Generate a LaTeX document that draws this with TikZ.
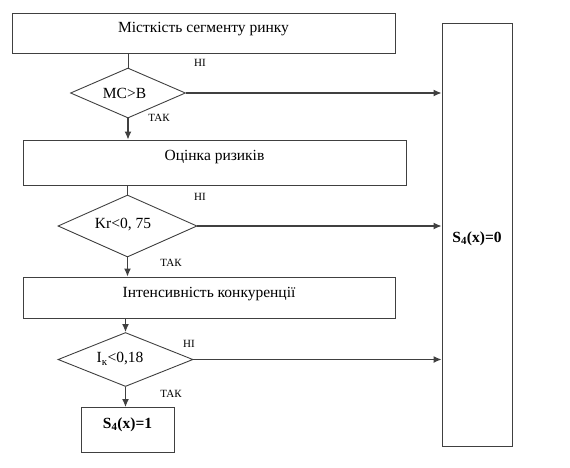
\documentclass[tikz,border=0pt]{standalone}
\usepackage{fontspec}
\setmainfont{Liberation Serif}
\usetikzlibrary{shapes.geometric,arrows.meta}
\begin{document}
\begin{tikzpicture}[x=1pt,y=-1pt,
  box/.style={draw=black!75,line width=0.9pt,inner sep=0pt},
  dia/.style={draw=black!75,line width=0.9pt,shape=diamond,inner sep=0pt,aspect=2.3},
  txt/.style={inner sep=0pt,font=\fontsize{15.5}{17}\selectfont},
  lbl/.style={inner sep=0pt,font=\fontsize{11}{12}\selectfont},
  arr/.style={draw=black!75,line width=1.2pt,-{Latex[length=8pt,width=7pt]}},
  ln/.style={draw=black!75,line width=0.9pt}]
\useasboundingbox (0,0) rectangle (570,467);
\node[box,minimum width=383pt,minimum height=40pt] (b1) at (203.5,33) {};
\node[txt] (t1) at (203.5,29) {Місткість сегменту ринку};
\node[dia,minimum width=115pt,minimum height=50pt] (d1) at (128,93) {};
\node[txt] (dt1) at (124.5,93) {МС>В};
\node[box,minimum width=383pt,minimum height=45pt] (b2) at (214.5,162.5) {};
\node[txt] (t2) at (214.5,157) {Оцінка ризиків};
\node[dia,minimum width=139pt,minimum height=62pt] (d2) at (127.5,226) {};
\node[txt] (dt2) at (123,225) {Kr<0, 75};
\node[box,minimum width=372pt,minimum height=41pt] (b3) at (209,297.5) {};
\node[txt] (t3) at (209,294) {Інтенсивність конкуренції};
\node[dia,minimum width=135pt,minimum height=54pt] (d3) at (125.5,359.5) {};
\node[txt] (dt3) at (120,359) {I\textsubscript{к}<0,18};
\node[box,minimum width=93pt,minimum height=45pt] (b4) at (127.5,430) {};
\node[txt,font=\fontsize{15.5}{17}\selectfont\bfseries] (t4) at (127.5,425) {S\textsubscript{4}(x)=1};
\node[box,minimum width=70pt,minimum height=423pt] (rb) at (477,235) {};
\node[txt,font=\fontsize{15.5}{17}\selectfont\bfseries] (t5) at (477,239) {S\textsubscript{4}(x)=0};
\draw[ln] (d1.north |- b1.south) -- (d1.north);
\draw[arr] (d1.south) -- (d1.south |- b2.north);
\draw[ln] (d2.north |- b2.south) -- (d2.north);
\draw[arr] (d2.south) -- (d2.south |- b3.north);
\draw[arr] (d3.north |- b3.south) -- (d3.north);
\draw[arr] (d3.south) -- (d3.south |- b4.north);
\draw[arr] (d1.east) -- (d1.east -| rb.west);
\draw[arr] (d2.east) -- (d2.east -| rb.west);
\draw[arr] (d3.east) -- (d3.east -| rb.west);
\node[lbl] (n1) at (200,63) {НІ};
\node[lbl] (y1) at (159,118) {ТАК};
\node[lbl] (n2) at (200,197) {НІ};
\node[lbl] (y2) at (171,263) {ТАК};
\node[lbl] (n3) at (189,344) {НІ};
\node[lbl] (y3) at (171,394) {ТАК};
\end{tikzpicture}
\end{document}
